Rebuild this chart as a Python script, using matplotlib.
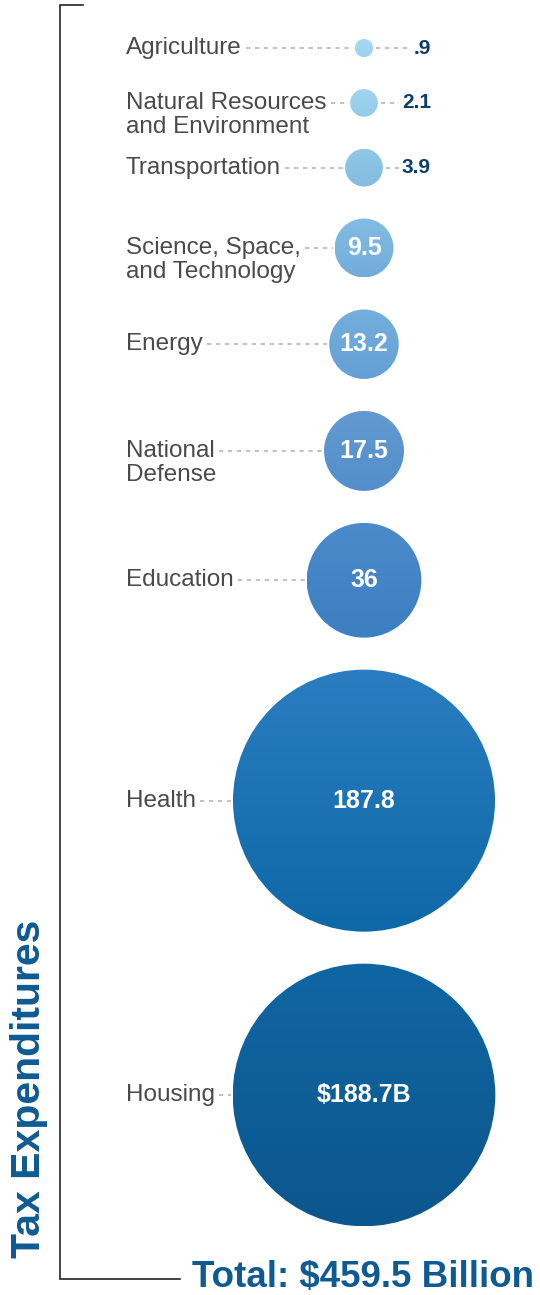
import numpy as np
import matplotlib.pyplot as plt
from matplotlib.patches import Circle
from matplotlib.colors import LinearSegmentedColormap

plt.rcParams["font.family"] = ["Liberation Sans", "DejaVu Sans"]

categories = [
    "Agriculture",
    "Natural Resources\nand Environment",
    "Transportation",
    "Science, Space,\nand Technology",
    "Energy",
    "National\nDefense",
    "Education",
    "Health",
    "Housing",
]
values = [0.9, 2.1, 3.9, 9.5, 13.2, 17.5, 36, 187.8, 188.7]
value_labels = [".9", "2.1", "3.9", "9.5", "13.2", "17.5", "36", "187.8", "$188.7B"]
top_colors = ["#a6dbf0", "#9fd5ee", "#8fc8e7", "#82bde4", "#74afde", "#6299d1",
              "#4b8bcb", "#2a7dc0", "#1066a3"]
bottom_colors = ["#9cd2ec", "#93cbe8", "#84bbe1", "#73acda", "#64a0d4", "#538fca",
                 "#3c7fc2", "#0f68a8", "#0c568d"]
total_label = "Total: $459.5 Billion"
side_title = "Tax Expenditures"

W, H = 540, 1295
fig = plt.figure(figsize=(W / 100, H / 100), dpi=100)
ax = fig.add_axes([0, 0, 1, 1])
ax.set_xlim(0, W)
ax.set_ylim(H, 0)
ax.set_aspect("equal")
ax.axis("off")

navy = "#0e5a92"
label_gray = "#4a4a4a"
dot_gray = "#c2c2c2"
cx = 364
label_x = 126
scale = 9.56           # px radius per sqrt(billion), so area tracks value
gap = 32
line_step = 24

radii = scale * np.sqrt(values)
centers = [48.0]
for i in range(1, len(values)):
    centers.append(centers[-1] + radii[i - 1] + gap + radii[i])

fig.canvas.draw()
renderer = fig.canvas.get_renderer()
inv = ax.transData.inverted()


def text_right(t):
    bb = t.get_window_extent(renderer)
    return inv.transform((bb.x1, bb.y0))[0]


def leader(x0, x1, y):
    if x1 > x0:
        ax.plot([x0, x1], [y, y], color=dot_gray, lw=1.4,
                linestyle=(0, (2.2, 2.4)), zorder=1)


for cat, v, lab, c0, c1, r, cy in zip(categories, values, value_labels,
                                      top_colors, bottom_colors, radii, centers):
    # circle with a soft vertical gradient
    circ = Circle((cx, cy), r, facecolor="none", edgecolor="none")
    ax.add_patch(circ)
    cmap = LinearSegmentedColormap.from_list("g", [c0, c1])
    grad = np.linspace(0, 1, 64).reshape(-1, 1)
    im = ax.imshow(grad, cmap=cmap, extent=(cx - r, cx + r, cy + r, cy - r),
                   aspect="auto", interpolation="bilinear", zorder=2)
    im.set_clip_path(circ)

    lines = cat.split("\n")
    ends = []
    for j, ln in enumerate(lines):
        t = ax.text(label_x, cy + j * line_step, ln, fontsize=17.5,
                    color=label_gray, ha="left", va="center")
        ends.append(t)
    leader(text_right(ends[0]) + 4, cx - r - 2, cy)

    if r < 25:
        vt = ax.text(431, cy, lab, fontsize=15, fontweight="bold",
                     color="#0d3d6b", ha="right", va="center")
        bb = vt.get_window_extent(renderer)
        x_start = inv.transform((bb.x0, bb.y0))[0]
        leader(cx + r + 3, x_start - 3, cy)
    else:
        ax.text(cx, cy, lab, fontsize=18, fontweight="bold", color="white",
                ha="center", va="center", zorder=3)

# bracket on the left
ax.plot([83, 60, 60, 180], [5, 5, 1279, 1279], color="#222222", lw=1.2,
        solid_joinstyle="miter")
ax.text(29, 1258, side_title, rotation=90, fontsize=29.5, fontweight="bold",
        color=navy, ha="center", va="bottom")
ax.text(192, 1278, total_label, fontsize=26.5, fontweight="bold", color=navy,
        ha="left", va="center")

fig.savefig("out.png", dpi=100)
